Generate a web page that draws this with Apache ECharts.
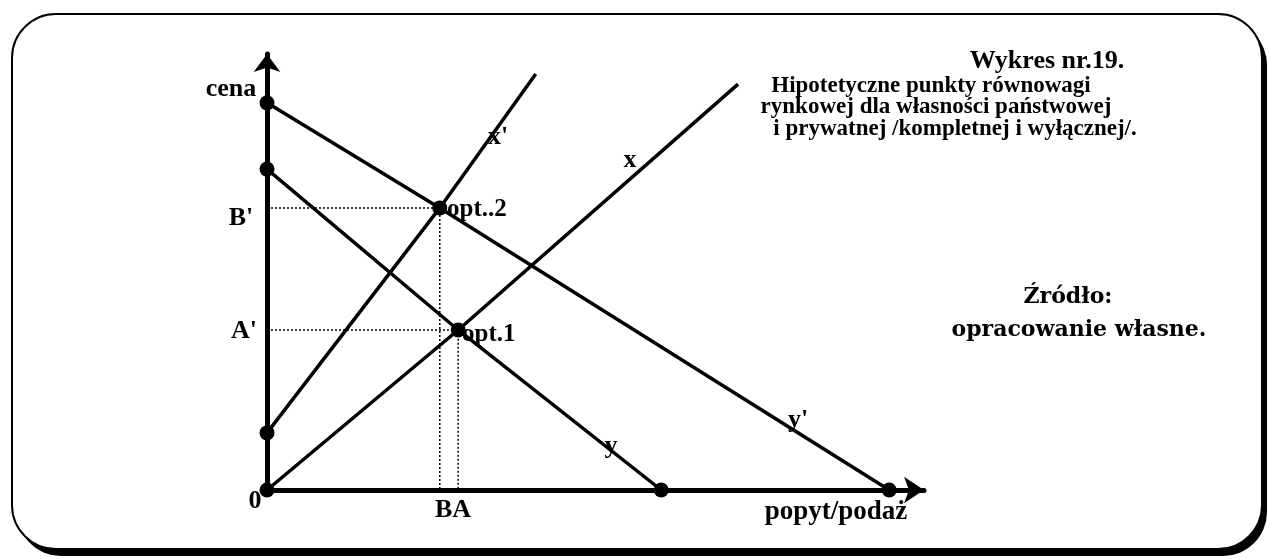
<!DOCTYPE html>
<html>
<head>
<meta charset="utf-8">
<script src="https://cdn.jsdelivr.net/npm/echarts@6/dist/echarts.min.js"></script>
<style>
html,body{margin:0;padding:0;background:#fff;}
#c{width:1269px;height:559px;}
</style>
</head>
<body>
<div id="c"></div>
<script>
// ---- data (abstract units: quantity 0..100, price 0..100) ----
const supplyX      = [[0, 0], [29.1, 36.7], [71.7, 93.1]];      // line x
const supplyXp     = [[0, 13.1], [26.3, 64.7], [40.9, 95.4]];   // line x'
const demandY      = [[0, 73.6], [29.1, 36.7], [60.0, 0]];      // line y
const demandYp     = [[0, 88.8], [26.3, 64.7], [94.7, 0]];      // line y'
const opt1         = [29.1, 36.7];
const opt2         = [26.3, 64.7];
const guide1       = [[0, 36.7], [29.1, 36.7], [29.1, 0]];      // A' / A
const guide2       = [[0, 64.7], [26.3, 64.7], [26.3, 0]];      // B' / B
const dots         = [[0, 0], [0, 13.1], [0, 73.6], [0, 88.8], [60.0, 0], [94.7, 0], opt1, opt2];

const titleLines = [
  'Wykres nr.19.',
  'Hipotetyczne punkty równowagi',
  'rynkowej dla własności państwowej',
  'i prywatnej /kompletnej i wyłącznej/.'
];
const sourceLines = ['Źródło:', 'opracowanie własne.'];

const chart = echarts.init(document.getElementById('c'), null, {renderer: 'canvas'});
const black = '#000';
const serif = '"Liberation Serif", "Times New Roman", serif';

function lineSeries(data) {
  return {type: 'line', data: data, symbol: 'none', silent: true, animation: false,
          lineStyle: {color: black, width: 3.5}, z: 3};
}
function guideSeries(data) {
  return {type: 'line', data: data, symbol: 'none', silent: true, animation: false,
          lineStyle: {color: black, width: 1.5, type: [2, 2]}, z: 2};
}
function txt(text, x, y, font, align) {
  return {type: 'text', z: 100, x: x, y: y, silent: true,
    style: {text: text, font: font, fill: black,
            textAlign: align || 'left', textVerticalAlign: 'middle'}};
}
const lbl = 'bold 26px ' + serif;
const ttl = 'bold 23px ' + serif;
const src = 'bold 22px "DejaVu Serif", serif';

const option = {
  backgroundColor: '#fff',
  animation: false,
  grid: {left: 267, top: 54, right: 345, bottom: 69, containLabel: false},
  xAxis: {type: 'value', min: 0, max: 100,
    axisLine: {show: true, onZero: false, symbol: ['none', 'arrow'], symbolSize: [20, 20],
               lineStyle: {color: black, width: 5}},
    axisTick: {show: false}, axisLabel: {show: false}, splitLine: {show: false}},
  yAxis: {type: 'value', min: 0, max: 100,
    axisLine: {show: true, onZero: false, symbol: ['none', 'arrow'], symbolSize: [20, 18],
               lineStyle: {color: black, width: 5}},
    axisTick: {show: false}, axisLabel: {show: false}, splitLine: {show: false}},
  series: [
    guideSeries(guide1),
    guideSeries(guide2),
    lineSeries(supplyX),
    lineSeries(supplyXp),
    lineSeries(demandY),
    lineSeries(demandYp),
    {type: 'scatter', data: dots, symbolSize: 15, itemStyle: {color: black, opacity: 1}, z: 5, silent: true}
  ],
  graphic: [
    {type: 'rect', z: -2, silent: true, shape: {x: 17, y: 21, width: 1250, height: 535, r: 44},
     style: {fill: black}},
    {type: 'rect', z: -1, silent: true, shape: {x: 12, y: 14, width: 1250, height: 535, r: 44},
     style: {fill: '#fff', stroke: black, lineWidth: 2}},
    txt('cena', 231, 89, lbl, 'center'),
    txt("B'", 241, 218, lbl, 'center'),
    txt("A'", 244, 331, lbl, 'center'),
    txt('0', 255, 501, lbl, 'center'),
    txt('BA', 453, 510, lbl, 'center'),
    txt('popyt/podaż', 836, 512, 'bold 27px ' + serif, 'center'),
    txt('opt..2', 447, 210, 'bold 25px ' + serif, 'left'),
    txt('opt.1', 462, 335, 'bold 25px ' + serif, 'left'),
    txt("x'", 498, 137, lbl, 'center'),
    txt('x', 630, 160, lbl, 'center'),
    txt('y', 611, 446, lbl, 'center'),
    txt("y'", 798, 420, lbl, 'center'),
    txt(titleLines[0], 1047, 61, 'bold 26px ' + serif, 'center'),
    txt(titleLines[1], 931, 86, ttl, 'center'),
    txt(titleLines[2], 936, 107.5, ttl, 'center'),
    txt(titleLines[3], 955, 129, ttl, 'center'),
    txt(sourceLines[0], 1068, 297, src, 'center'),
    txt(sourceLines[1], 1079, 330, src, 'center')
  ]
};
chart.setOption(option);
</script>
</body>
</html>
